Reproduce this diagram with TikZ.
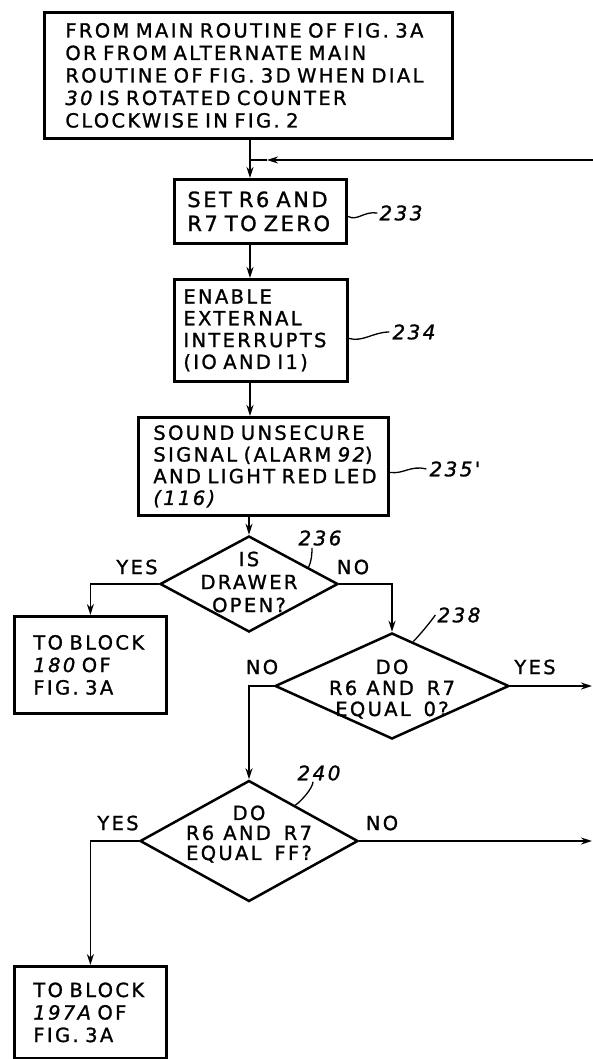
\documentclass[tikz,border=0pt]{standalone}
\usepackage{fontspec}
\newfontfamily\lett{DejaVu Sans}[LetterSpace=12,WordSpace=1.5,FakeBold=1.2,ItalicFont={DejaVu Sans Oblique}]
\usetikzlibrary{shapes.geometric,arrows.meta,calc}
\newcommand{\Lq}[1]{\mbox{#1}}
\begin{document}
\begin{tikzpicture}[x=1pt,y=-1pt,
  every node/.style={font=\lett\fontsize{19.5}{22.5}\selectfont},
  box/.style={draw, line width=2.8pt, rectangle, align=left, anchor=north west, inner ysep=0pt},
  dec/.style={draw, diamond, line width=2.5pt, inner sep=0pt},
  conn/.style={line width=1.8pt},
  arr/.style={conn, -{Stealth[length=11pt,width=7pt]}},
  num/.style={font=\lett\itshape\fontsize{20}{22}\selectfont, inner sep=0pt},
  brl/.style={inner sep=0pt},
  lead/.style={line width=1.3pt},
]
\fill[white] (0,0) rectangle (593,1059);
\useasboundingbox (0,0) rectangle (593,1059);

% boxes
\node[box, minimum width=408pt, minimum height=126pt, text width=366pt, inner xsep=21pt] (start) at (43,11)
  {\Lq{FROM MAIN ROUTINE OF FIG. 3A}\\\Lq{OR FROM ALTERNATE MAIN}\\\Lq{ROUTINE OF FIG. 3D WHEN DIAL}\\\Lq{{\itshape 30} IS ROTATED COUNTER}\\\Lq{CLOCKWISE IN FIG. 2}};
\node[box, minimum width=172pt, minimum height=64pt, text width=146pt, inner xsep=13pt,
  font=\lett\fontsize{21}{24}\selectfont] (b233) at (173,178)
  {\Lq{SET R6 AND}\\\Lq{R7 TO ZERO}};
\node[box, minimum width=173pt, minimum height=102pt, text width=155pt, inner xsep=9pt,
  font=\lett\fontsize{19.5}{21.8}\selectfont] (b234) at (173,278)
  {\Lq{ENABLE}\\\Lq{EXTERNAL}\\\Lq{INTERRUPTS}\\\Lq{(IO AND I1)}};
\node[box, minimum width=250pt, minimum height=98pt, text width=220pt, inner xsep=15pt,
  font=\lett\fontsize{19.5}{21.7}\selectfont] (b235) at (137,416)
  {\Lq{SOUND UNSECURE}\\\Lq{SIGNAL (ALARM {\itshape 92})}\\\Lq{AND LIGHT RED LED}\\\Lq{\itshape (116)}};
\node[box, minimum width=152pt, minimum height=97pt, text width=114pt, inner xsep=19pt] (b180) at (13,615)
  {\Lq{TO BLOCK}\\\Lq{{\itshape 180} OF}\\\Lq{FIG. 3A}};
\node[box, minimum width=152pt, minimum height=92pt, text width=114pt, inner xsep=19pt] (b197) at (13,965)
  {\Lq{TO BLOCK}\\\Lq{{\itshape 197A} OF}\\\Lq{FIG. 3A}};

% decisions
\node[dec, minimum width=178pt, minimum height=96pt,
  label={[align=center,font=\lett\fontsize{19.5}{23}\selectfont,yshift=2pt]center:IS\\DRAWER\\OPEN?}] (d236) at (249,584) {};
\node[dec, minimum width=234pt, minimum height=106pt,
  label={[align=center,font=\lett\fontsize{19.5}{21}\selectfont,yshift=-3pt]center:DO\\R6\hspace{9pt}AND R7\\EQUAL 0?}] (d238) at (392,686) {};
\node[dec, minimum width=218pt, minimum height=121pt,
  label={[align=center,font=\lett\fontsize{19.5}{20}\selectfont,yshift=7pt]center:DO\\R6\hspace{9pt}AND R7\\EQUAL FF?}] (d240) at (249,841) {};

% reference numerals
\node[num] (l233) at (401,213) {233};
\node[num] (l234) at (414,332) {234};
\node[num] (l235) at (455,469) {235'};
\node[num] (l236) at (320,538) {236};
\node[num] (l238) at (459,615) {238};
\node[num] (l240) at (319,773) {240};

% branch labels
\node[brl] (y236) at (137,567) {YES};
\node[brl] (n236) at (353,567) {NO};
\node[brl] (n238) at (262,667) {NO};
\node[brl] (y238) at (535,667) {YES};
\node[brl] (y240) at (118,823) {YES};
\node[brl] (n240) at (382,823) {NO};

% coordinates
\coordinate (loopR) at (593,160);
\coordinate (loopA) at (267,160);
\coordinate (loopJ) at (250,160);
\coordinate (out238) at (592,682);
\coordinate (out240) at (592,840);

% connectors
\draw[conn] (start.south -| loopJ) -- (loopJ);
\draw[arr] (loopR) -- (loopA);
\draw[conn] (loopA) -- (loopJ);
\draw[arr] (loopJ) -- (loopJ |- b233.north);
\draw[arr] (b233.south -| loopJ) -- (b234.north -| loopJ);
\draw[arr] (b234.south -| loopJ) -- (b235.north -| loopJ);
\draw[arr] (b235.south -| d236.north) -- (d236.north);
\draw[arr] (d236.west) -| (b180.north);
\draw[arr] (d236.east) -| (d238.north);
\draw[arr] (d238.east) -- (d238.east -| out238);
\draw[arr] (d238.west) -| (d240.north);
\draw[arr] (d240.west) -| (b197.north);
\draw[arr] (d240.east) -- (d240.east -| out240);

% leaders
\draw[lead] ([yshift=-5pt]b233.east) .. controls +(10,5) and +(-14,-2) .. ([xshift=-2pt]l233.west);
\draw[lead] ([yshift=-8pt]b234.east) .. controls +(14,4) and +(-16,0) .. ([xshift=-3pt]l234.west);
\draw[lead] ([yshift=-6pt]b235.east) .. controls +(14,2) and +(-16,-4) .. ([xshift=-3pt]l235.west);
\draw[lead] ($(d236.north)!0.66!(d236.east)$) .. controls +(3,-6) and +(0,6) .. ([xshift=-8pt,yshift=-2pt]l236.south);
\draw[lead] ($(d238.north)!0.18!(d238.east)$) .. controls +(6,-6) and +(-4,6) .. ([xshift=-2pt]l238.west);
\draw[lead] ($(d240.north)!0.42!(d240.east)$) .. controls +(6,-4) and +(0,6) .. ([xshift=-6pt,yshift=-1pt]l240.south);
\end{tikzpicture}
\end{document}
